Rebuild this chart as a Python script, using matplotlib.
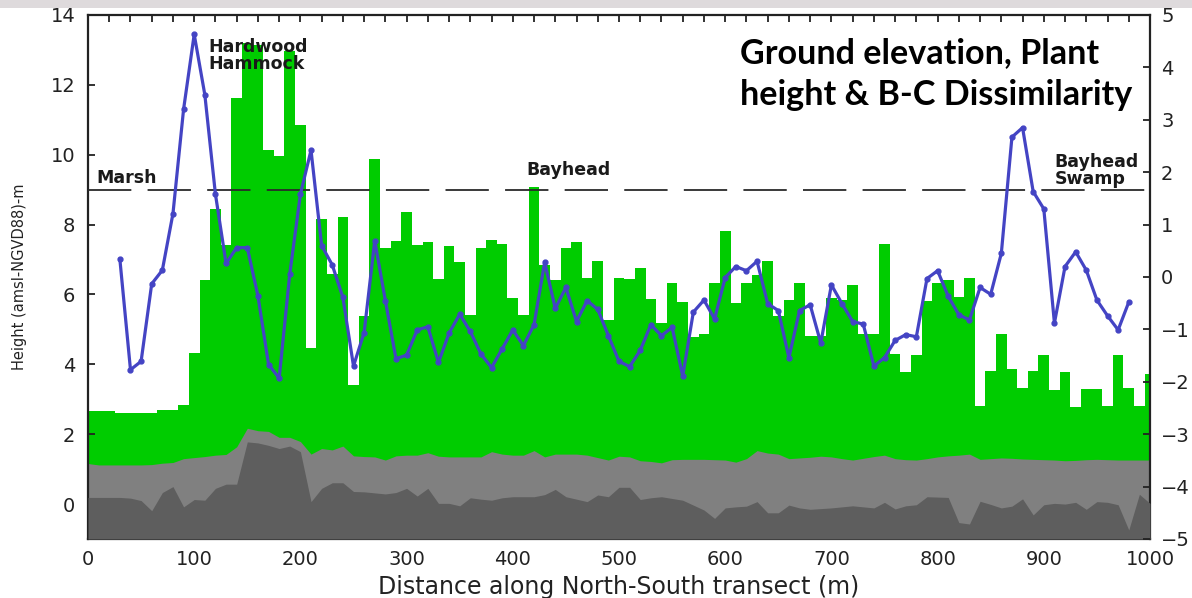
import numpy as np
import matplotlib
matplotlib.use("Agg")
import matplotlib.pyplot as plt
from matplotlib.patches import Rectangle
from matplotlib.ticker import MultipleLocator

# ---- data -------------------------------------------------------------
# distance along transect (m) for plant-height bars and ground profiles
distance = list(range(0, 1001, 10))

plant_height = [
    2.67, 2.67, 2.66, 2.62, 2.62, 2.62, 2.62, 2.70, 2.70, 2.85,
    4.33, 6.41, 8.45, 7.43, 11.61, 13.20, 13.15, 10.13, 9.96, 12.98,
    10.85, 4.47, 8.15, 6.60, 8.23, 3.42, 5.38, 9.87, 7.32, 7.53,
    8.37, 7.41, 7.51, 6.43, 7.39, 6.92, 5.41, 7.34, 7.56, 7.44,
    5.91, 5.41, 9.08, 6.84, 6.41, 7.32, 7.49, 6.46, 6.97, 5.27,
    6.46, 6.43, 6.75, 5.88, 5.19, 6.32, 5.79, 4.77, 4.87, 6.34,
    7.83, 5.76, 6.34, 6.56, 6.97, 5.38, 5.84, 6.34, 4.82, 4.82,
    5.89, 5.85, 6.27, 4.87, 4.88, 7.44, 4.31, 3.79, 4.27, 5.82,
    6.34, 6.41, 5.94, 6.46, 2.81, 3.82, 4.86, 3.86, 3.31, 3.81,
    4.28, 3.26, 3.79, 2.77, 3.29, 3.29, 2.82, 4.28, 3.31, 2.81,
    3.73,
]

ground_elev = [
    1.16, 1.12, 1.12, 1.12, 1.12, 1.12, 1.13, 1.17, 1.19, 1.30,
    1.33, 1.36, 1.40, 1.42, 1.64, 2.17, 2.10, 2.08, 1.91, 1.91,
    1.79, 1.43, 1.59, 1.55, 1.66, 1.38, 1.36, 1.35, 1.26, 1.38,
    1.40, 1.40, 1.47, 1.37, 1.35, 1.35, 1.35, 1.35, 1.50, 1.43,
    1.40, 1.40, 1.53, 1.35, 1.43, 1.43, 1.43, 1.40, 1.33, 1.26,
    1.37, 1.35, 1.24, 1.22, 1.18, 1.27, 1.28, 1.28, 1.28, 1.27,
    1.26, 1.20, 1.30, 1.53, 1.46, 1.43, 1.30, 1.32, 1.34, 1.37,
    1.35, 1.30, 1.26, 1.31, 1.36, 1.40, 1.30, 1.27, 1.26, 1.30,
    1.35, 1.38, 1.40, 1.43, 1.28, 1.30, 1.32, 1.31, 1.29, 1.28,
    1.27, 1.26, 1.24, 1.25, 1.27, 1.28, 1.27, 1.26, 1.26, 1.26,
    1.26,
]

bedrock_elev = [
    0.19, 0.19, 0.19, 0.19, 0.17, 0.10, -0.19, 0.33, 0.50, -0.08,
    0.13, 0.11, 0.45, 0.57, 0.57, 1.78, 1.75, 1.68, 1.59, 1.66,
    1.50, 0.07, 0.45, 0.61, 0.61, 0.36, 0.35, 0.32, 0.29, 0.33,
    0.45, 0.23, 0.45, 0.02, 0.02, -0.05, 0.18, 0.14, 0.11, 0.18,
    0.21, 0.21, 0.21, 0.27, 0.42, 0.21, 0.14, 0.07, 0.26, 0.21,
    0.48, 0.48, 0.13, 0.18, 0.21, 0.16, 0.11, -0.03, -0.17, -0.41,
    -0.11, -0.08, -0.06, 0.07, -0.25, -0.25, -0.03, -0.11, -0.15, -0.13,
    -0.11, -0.08, -0.05, -0.08, -0.11, 0.05, -0.14, -0.05, -0.02, 0.21,
    0.20, 0.19, -0.53, -0.57, 0.08, -0.01, -0.11, -0.06, 0.15, -0.31,
    -0.02, 0.02, 0.00, 0.05, -0.15, 0.07, 0.05, -0.02, -0.74, 0.28,
    0.02,
]

# Bray-Curtis dissimilarity (right axis)
bc_distance = list(range(30, 981, 10))
bc_dissim = [
    0.34, -1.77, -1.61, -0.13, 0.13, 1.21, 3.20, 4.63, 3.48, 1.58,
    0.26, 0.56, 0.56, -0.36, -1.67, -1.93, 0.06, 1.58, 2.42, 0.60,
    0.23, -0.39, -1.70, -1.06, 0.69, -0.45, -1.56, -1.49, -1.01, -0.95,
    -1.63, -1.07, -0.71, -1.04, -1.47, -1.73, -1.37, -1.01, -1.31, -0.91,
    0.28, -0.60, -0.20, -0.85, -0.45, -0.62, -1.12, -1.61, -1.71, -1.40,
    -0.91, -1.12, -0.96, -1.89, -0.67, -0.44, -0.80, -0.01, 0.20, 0.12,
    0.30, -0.51, -0.64, -1.54, -0.64, -0.53, -1.26, -0.15, -0.51, -0.85,
    -0.90, -1.70, -1.54, -1.21, -1.10, -1.14, -0.03, 0.12, -0.37, -0.72,
    -0.82, -0.20, -0.33, 0.45, 2.67, 2.85, 1.63, 1.30, -0.88, 0.20,
    0.48, 0.13, -0.44, -0.74, -1.01, -0.48,
]

reference_level = 9.0

zones = ["Marsh", "Hardwood\nHammock", "Bayhead", "Bayhead\nSwamp"]
title_lines = ["Ground elevation, Plant", "height & B-C Dissimilarity"]

# ---- figure -----------------------------------------------------------
W, H = 1192, 598
fig = plt.figure(figsize=(W / 100, H / 100), dpi=100)
fig.patch.set_facecolor("white")

# textured slide strip along the very top edge
fig.patches.append(Rectangle((0, 1 - 8 / H), 1, 8 / H, transform=fig.transFigure,
                             facecolor="#DEDADC", edgecolor="none", zorder=0))

ax = fig.add_axes([88 / W, 1 - 539 / H, 1062 / W, 524 / H])
ax.set_xlim(0, 1000)
ax.set_ylim(-1, 14)

green = "#00CC00"
ax.bar(distance, np.array(plant_height) + 1, bottom=-1, width=10,
       color=green, edgecolor="none", zorder=1)
ax.fill_between(distance, -1, ground_elev, color="#808080", lw=0, zorder=2)
ax.fill_between(distance, -1, bedrock_elev, color="#5E5E5E", lw=0, zorder=3)

ax.axhline(reference_level, color="#2a2a2a", lw=1.3, dashes=(24, 9),
           zorder=4)

# zone labels
lab_kw = dict(fontsize=12.5, fontweight="bold", color="#1a1a1a",
              family="DejaVu Sans", zorder=6, linespacing=0.95)
ax.text(8, 9.33, zones[0], ha="left", va="center", **lab_kw)
ax.text(113, 13.35, zones[1], ha="left", va="top", **lab_kw)
ax.text(413, 9.56, zones[2], ha="left", va="center", **lab_kw)
ax.text(910, 10.05, zones[3], ha="left", va="top", **lab_kw)

ax.set_yticks(range(0, 15, 2))
ax.xaxis.set_major_locator(MultipleLocator(100))
ax.xaxis.set_minor_locator(MultipleLocator(20))
ax.tick_params(axis="both", which="both", direction="in", length=5,
               width=1.3, labelsize=14, colors="#222222", top=True)
ax.tick_params(axis="x", which="major", pad=8)
ax.tick_params(axis="y", which="major", pad=9)
for s in ax.spines.values():
    s.set_linewidth(1.6)
    s.set_color("#222222")
ax.set_xlabel("Distance along North-South transect (m)", fontsize=17,
              color="#222222", labelpad=4)
ax.set_ylabel("Height (amsl-NGVD88)-m", fontsize=10.5, color="#222222")
ax.yaxis.set_label_coords(-0.057, 0.5)

ax2 = ax.twinx()
ax2.set_ylim(-5, 5)
ax2.set_yticks(range(-5, 6))
ax2.tick_params(axis="y", direction="in", length=5, width=1.3,
                labelsize=14, colors="#222222", pad=8)
ax2.plot(bc_distance, bc_dissim, color="#4444C4", lw=2.3, marker="o",
         markersize=3.5, zorder=5)
for s in ax2.spines.values():
    s.set_visible(False)

title_kw = dict(ha="left", va="baseline", fontsize=24.6, fontweight="bold",
                family="Lato", color="black")
fig.text(740 / W, 1 - 63 / H, title_lines[0], **title_kw)
fig.text(740 / W, 1 - 105 / H, title_lines[1], **title_kw)

fig.savefig("out.png", dpi=100)
